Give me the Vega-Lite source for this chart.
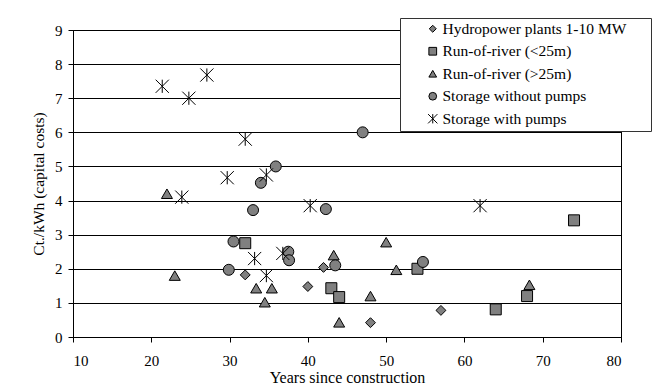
{
  "$schema": "https://vega.github.io/schema/vega-lite/v6.json",
  "width": 548,
  "height": 307,
  "autosize": "none",
  "padding": {"left": 73, "top": 30, "right": 32, "bottom": 48},
  "background": "white",
  "config": {
    "view": {"stroke": "black", "strokeWidth": 1},
    "font": "Liberation Serif",
    "legend": {
      "labelFont": "Liberation Serif", "labelFontSize": 15.5, "labelColor": "black", "labelLimit": 400,
      "fillColor": "white", "strokeColor": "#333", "padding": 3, "rowPadding": 5.5,
      "symbolOffset": 22, "labelOffset": 2, "symbolSize": 60,
      "symbolStrokeWidth": 1,
      "titleOrient": "right", "titlePadding": 22, "titleFontSize": 4
    }
  },
  "data": {
    "values": [
      {"type": "Hydropower plants 1-10 MW", "years": 32.0, "cost": 1.82},
      {"type": "Hydropower plants 1-10 MW", "years": 40.0, "cost": 1.48},
      {"type": "Hydropower plants 1-10 MW", "years": 42.0, "cost": 2.04},
      {"type": "Hydropower plants 1-10 MW", "years": 48.0, "cost": 0.42},
      {"type": "Hydropower plants 1-10 MW", "years": 57.0, "cost": 0.78},
      {"type": "Run-of-river (<25m)", "years": 32.0, "cost": 2.75},
      {"type": "Run-of-river (<25m)", "years": 43.0, "cost": 1.43},
      {"type": "Run-of-river (<25m)", "years": 44.0, "cost": 1.17},
      {"type": "Run-of-river (<25m)", "years": 54.0, "cost": 2.0},
      {"type": "Run-of-river (<25m)", "years": 64.0, "cost": 0.81},
      {"type": "Run-of-river (<25m)", "years": 68.0, "cost": 1.2},
      {"type": "Run-of-river (<25m)", "years": 74.0, "cost": 3.42},
      {"type": "Run-of-river (>25m)", "years": 22.0, "cost": 4.2},
      {"type": "Run-of-river (>25m)", "years": 23.0, "cost": 1.8},
      {"type": "Run-of-river (>25m)", "years": 33.4, "cost": 1.43},
      {"type": "Run-of-river (>25m)", "years": 35.4, "cost": 1.43},
      {"type": "Run-of-river (>25m)", "years": 34.5, "cost": 1.02},
      {"type": "Run-of-river (>25m)", "years": 43.3, "cost": 2.4},
      {"type": "Run-of-river (>25m)", "years": 50.0, "cost": 2.78},
      {"type": "Run-of-river (>25m)", "years": 51.3, "cost": 1.97},
      {"type": "Run-of-river (>25m)", "years": 48.0, "cost": 1.2},
      {"type": "Run-of-river (>25m)", "years": 44.0, "cost": 0.43},
      {"type": "Run-of-river (>25m)", "years": 68.3, "cost": 1.53},
      {"type": "Storage without pumps", "years": 34.0, "cost": 4.52},
      {"type": "Storage without pumps", "years": 35.9, "cost": 5.0},
      {"type": "Storage without pumps", "years": 47.0, "cost": 6.0},
      {"type": "Storage without pumps", "years": 33.0, "cost": 3.72},
      {"type": "Storage without pumps", "years": 42.3, "cost": 3.75},
      {"type": "Storage without pumps", "years": 30.5, "cost": 2.8},
      {"type": "Storage without pumps", "years": 29.9, "cost": 1.97},
      {"type": "Storage without pumps", "years": 37.5, "cost": 2.5},
      {"type": "Storage without pumps", "years": 37.6, "cost": 2.25},
      {"type": "Storage without pumps", "years": 43.5, "cost": 2.1},
      {"type": "Storage without pumps", "years": 54.7, "cost": 2.2},
      {"type": "Storage with pumps", "years": 21.4, "cost": 7.35},
      {"type": "Storage with pumps", "years": 24.8, "cost": 7.0},
      {"type": "Storage with pumps", "years": 27.1, "cost": 7.68},
      {"type": "Storage with pumps", "years": 32.0, "cost": 5.8},
      {"type": "Storage with pumps", "years": 29.7, "cost": 4.67},
      {"type": "Storage with pumps", "years": 34.7, "cost": 4.75},
      {"type": "Storage with pumps", "years": 23.9, "cost": 4.1},
      {"type": "Storage with pumps", "years": 40.3, "cost": 3.85},
      {"type": "Storage with pumps", "years": 62.0, "cost": 3.85},
      {"type": "Storage with pumps", "years": 33.2, "cost": 2.3},
      {"type": "Storage with pumps", "years": 36.8, "cost": 2.45},
      {"type": "Storage with pumps", "years": 34.7, "cost": 1.8}
    ]
  },
  "mark": {"type": "point", "filled": true, "strokeWidth": 1, "opacity": 1, "fillOpacity": 1, "strokeOpacity": 1, "size": 121, "clip": false},
  "encoding": {
    "x": {
      "field": "years", "type": "quantitative",
      "scale": {"domain": [10, 80], "nice": false, "zero": false},
      "axis": {
        "title": "Years since construction",
        "values": [10, 20, 30, 40, 50, 60, 70, 80],
        "grid": false,
        "domainColor": "black", "tickColor": "black", "tickSize": 5,
        "labelFont": "Liberation Serif", "labelFontSize": 15, "labelColor": "black", "labelPadding": 11,
        "titleFont": "Liberation Serif", "titleFontSize": 16, "titleFontWeight": "normal", "titleColor": "black", "titlePadding": 1
      }
    },
    "y": {
      "field": "cost", "type": "quantitative",
      "scale": {"domain": [0, 9], "nice": false},
      "axis": {
        "title": "Ct./kWh (capital costs)",
        "values": [0, 1, 2, 3, 4, 5, 6, 7, 8, 9],
        "grid": true, "gridColor": "black", "gridWidth": 1, "gridOpacity": 1,
        "domainColor": "black", "tickColor": "black", "tickSize": 5,
        "labelFont": "Liberation Serif", "labelFontSize": 15, "labelColor": "black", "labelPadding": 6,
        "titleFont": "Liberation Serif", "titleFontSize": 15.5, "titleFontWeight": "normal", "titleColor": "black", "titlePadding": 8
      }
    },
    "shape": {
      "field": "type", "type": "nominal",
      "scale": {
        "domain": ["Hydropower plants 1-10 MW", "Run-of-river (<25m)", "Run-of-river (>25m)", "Storage without pumps", "Storage with pumps"],
        "range": ["M-0.9,0L0,-0.9L0.9,0L0,0.9Z", "square", "triangle-up", "circle", "M-1.2,-1.2L1.2,1.2M-1.2,1.2L1.2,-1.2M0,-1.2L0,1.2"]
      },
      "legend": {"orient": "none", "legendX": 327, "legendY": -12, "title": " "}
    },
    "fill": {
      "field": "type", "type": "nominal",
      "scale": {
        "domain": ["Hydropower plants 1-10 MW", "Run-of-river (<25m)", "Run-of-river (>25m)", "Storage without pumps", "Storage with pumps"],
        "range": ["#808080", "#808080", "#808080", "#808080", "#808080"]
      },
      "legend": {"orient": "none", "legendX": 327, "legendY": -12, "title": " "}
    },
    "stroke": {
      "field": "type", "type": "nominal",
      "scale": {
        "domain": ["Hydropower plants 1-10 MW", "Run-of-river (<25m)", "Run-of-river (>25m)", "Storage without pumps", "Storage with pumps"],
        "range": ["black", "black", "black", "black", "black"]
      },
      "legend": {"orient": "none", "legendX": 327, "legendY": -12, "title": " "}
    }
  }
}
